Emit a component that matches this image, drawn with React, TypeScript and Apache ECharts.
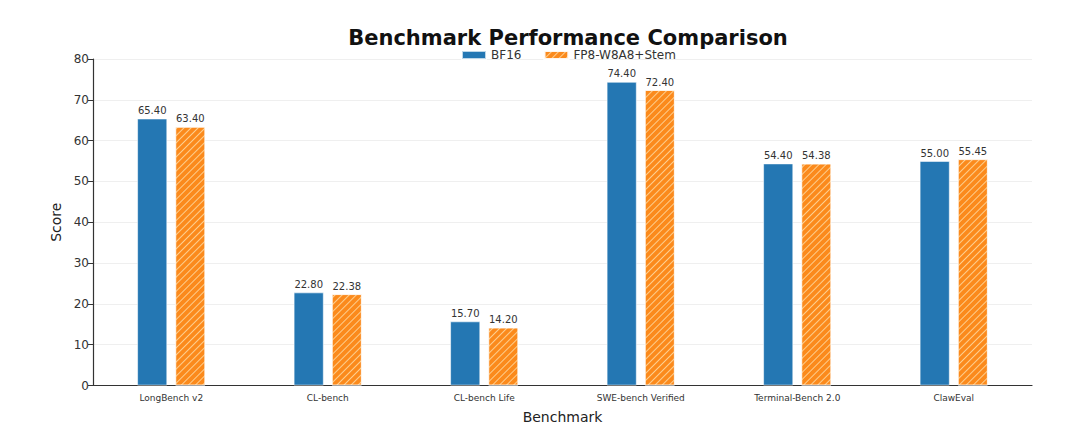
import React, { useEffect, useRef } from "react";
import * as echarts from "echarts";

const categories = [
  "LongBench v2",
  "CL-bench",
  "CL-bench Life",
  "SWE-bench Verified",
  "Terminal-Bench 2.0",
  "ClawEval",
];
const bf16Values = [65.4, 22.8, 15.7, 74.4, 54.4, 55.0];
const fp8Values = [63.4, 22.38, 14.2, 72.4, 54.38, 55.45];
const seriesNames = ["BF16", "FP8-W8A8+Stem"];
const yTicks = { min: 0, max: 80, interval: 10 };

const FONT = "DejaVu Sans";

export default function App() {
  const ref = useRef<HTMLDivElement>(null);
  useEffect(() => {
    if (!ref.current) return;
    const chart = echarts.init(ref.current, undefined, { renderer: "svg" });
    const label = {
      show: true,
      position: "top" as const,
      distance: 3,
      fontFamily: FONT,
      fontSize: 10,
      color: "#333",
      formatter: (p: any) => Number(p.value).toFixed(2),
    };
    chart.setOption({
      animation: false,
      backgroundColor: "#fff",
      textStyle: { fontFamily: FONT },
      title: {
        text: "Benchmark Performance Comparison",
        left: 563,
        textAlign: "center",
        top: 22,
        textStyle: { fontFamily: FONT, fontSize: 21, fontWeight: "bold", color: "#111" },
      },
      legend: {
        data: seriesNames,
        left: 456,
        top: 44,
        icon: "rect",
        itemWidth: 24,
        itemHeight: 8,
        itemGap: 22,
        textStyle: { fontFamily: FONT, fontSize: 12, color: "#333" },
      },
      grid: {
        left: 93,
        right: 48,
        top: 59,
        bottom: 40.5,
        containLabel: false,
        outerBoundsMode: "none",
      },
      xAxis: {
        type: "category",
        data: categories,
        name: "Benchmark",
        nameLocation: "middle",
        nameGap: 24,
        nameTextStyle: { fontFamily: FONT, fontSize: 14, color: "#222" },
        axisLine: { lineStyle: { color: "#333", width: 1.2 } },
        axisTick: { alignWithLabel: true, length: 4, lineStyle: { color: "#333" } },
        axisLabel: { fontFamily: FONT, fontSize: 9, color: "#333", margin: 8, interval: 0 },
        splitLine: { show: false },
      },
      yAxis: {
        type: "value",
        min: yTicks.min,
        max: yTicks.max,
        interval: yTicks.interval,
        name: "Score",
        nameLocation: "middle",
        nameGap: 30,
        nameTextStyle: { fontFamily: FONT, fontSize: 14, color: "#222" },
        axisLine: { show: true, lineStyle: { color: "#333", width: 1.2 } },
        axisTick: { show: true, length: 5, lineStyle: { color: "#333" } },
        axisLabel: { fontFamily: FONT, fontSize: 12, color: "#333", margin: 4 },
        splitLine: { show: true, lineStyle: { color: "#ebebeb", width: 0.8 } },
      },
      series: [
        {
          name: seriesNames[0],
          type: "bar",
          data: bf16Values,
          barWidth: 30,
          barGap: "27%",
          itemStyle: { color: "#2477b3", borderColor: "rgba(255,255,255,0.7)", borderWidth: 0.8 },
          label,
        },
        {
          name: seriesNames[1],
          type: "bar",
          data: fp8Values,
          barWidth: 30,
          barGap: "27%",
          itemStyle: {
            color: "#fb8a1c",
            borderColor: "rgba(255,255,255,0.7)",
            borderWidth: 0.8,
            decal: {
              symbol: "rect",
              symbolSize: 1,
              dashArrayX: [1, 0],
              dashArrayY: [1, 3.2],
              rotation: -Math.PI / 4,
              color: "rgba(255,235,190,0.7)",
            },
          },
          label,
        },
      ],
    });
    return () => chart.dispose();
  }, []);
  return (
    <div
      ref={ref}
      style={{ position: "absolute", left: 0, top: 0, width: 1080, height: 426 }}
    />
  );
}
